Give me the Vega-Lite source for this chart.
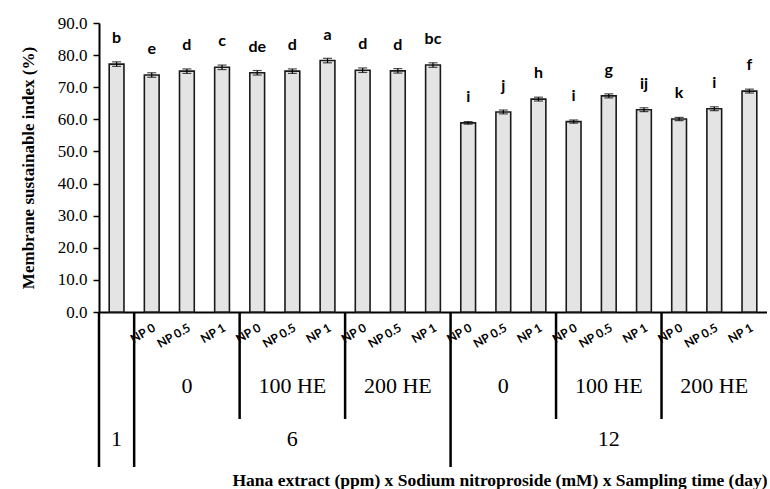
{
  "$schema": "https://vega.github.io/schema/vega-lite/v6.json",
  "padding": {"top": 14, "left": 19, "right": 0, "bottom": 0},
  "background": "white",
  "config": {"view": {"stroke": null}},
  "datasets": {
    "bars": [
      {"key": "1||", "mean": 77.2, "err": 0.7, "letter": "b"},
      {"key": "6|0|NP 0", "mean": 73.8, "err": 0.7, "letter": "e"},
      {"key": "6|0|NP 0.5", "mean": 75.0, "err": 0.7, "letter": "d"},
      {"key": "6|0|NP 1", "mean": 76.2, "err": 0.7, "letter": "c"},
      {"key": "6|100 HE|NP 0", "mean": 74.5, "err": 0.7, "letter": "de"},
      {"key": "6|100 HE|NP 0.5", "mean": 75.0, "err": 0.7, "letter": "d"},
      {"key": "6|100 HE|NP 1", "mean": 78.3, "err": 0.7, "letter": "a"},
      {"key": "6|200 HE|NP 0", "mean": 75.3, "err": 0.7, "letter": "d"},
      {"key": "6|200 HE|NP 0.5", "mean": 75.1, "err": 0.7, "letter": "d"},
      {"key": "6|200 HE|NP 1", "mean": 76.9, "err": 0.7, "letter": "bc"},
      {"key": "12|0|NP 0", "mean": 58.9, "err": 0.4, "letter": "i"},
      {"key": "12|0|NP 0.5", "mean": 62.3, "err": 0.6, "letter": "j"},
      {"key": "12|0|NP 1", "mean": 66.3, "err": 0.6, "letter": "h"},
      {"key": "12|100 HE|NP 0", "mean": 59.3, "err": 0.5, "letter": "i"},
      {"key": "12|100 HE|NP 0.5", "mean": 67.3, "err": 0.6, "letter": "g"},
      {"key": "12|100 HE|NP 1", "mean": 63.0, "err": 0.6, "letter": "ij"},
      {"key": "12|200 HE|NP 0", "mean": 60.1, "err": 0.5, "letter": "k"},
      {"key": "12|200 HE|NP 0.5", "mean": 63.3, "err": 0.6, "letter": "i"},
      {"key": "12|200 HE|NP 1", "mean": 68.8, "err": 0.6, "letter": "f"}
    ],
    "seps": [
      {"key": "1||", "kind": "long"},
      {"key": "6|0|NP 0", "kind": "long"},
      {"key": "6|100 HE|NP 0", "kind": "short"},
      {"key": "6|200 HE|NP 0", "kind": "short"},
      {"key": "12|0|NP 0", "kind": "long"},
      {"key": "12|100 HE|NP 0", "kind": "short"},
      {"key": "12|200 HE|NP 0", "kind": "short"}
    ],
    "he": [
      {"key": "6|0|NP 0.5", "label": "0"},
      {"key": "6|100 HE|NP 0.5", "label": "100 HE"},
      {"key": "6|200 HE|NP 0.5", "label": "200 HE"},
      {"key": "12|0|NP 0.5", "label": "0"},
      {"key": "12|100 HE|NP 0.5", "label": "100 HE"},
      {"key": "12|200 HE|NP 0.5", "label": "200 HE"}
    ],
    "days": [
      {"key": "1||", "label": "1"},
      {"key": "6|100 HE|NP 0.5", "label": "6"},
      {"key": "12|100 HE|NP 0.5", "label": "12"}
    ]
  },
  "vconcat": [
    {
      "width": 668,
      "height": 289,
      "data": {"name": "bars"},
      "encoding": {
        "x": {
          "field": "key", "type": "nominal",
          "scale": {"domain": ["1||","6|0|NP 0","6|0|NP 0.5","6|0|NP 1","6|100 HE|NP 0","6|100 HE|NP 0.5","6|100 HE|NP 1","6|200 HE|NP 0","6|200 HE|NP 0.5","6|200 HE|NP 1","12|0|NP 0","12|0|NP 0.5","12|0|NP 1","12|100 HE|NP 0","12|100 HE|NP 0.5","12|100 HE|NP 1","12|200 HE|NP 0","12|200 HE|NP 0.5","12|200 HE|NP 1"], "paddingInner": 0, "paddingOuter": 0},
          "axis": {
            "title": null,
            "labelExpr": "split(datum.value, '|')[2]",
            "labelAngle": -30,
            "labelFont": "Lato",
            "labelFontWeight": "bold",
            "labelFontSize": 12,
            "labelColor": "black",
            "labelPadding": 10,
            "ticks": false,
            "domainColor": "black",
            "domainWidth": 2
          }
        },
        "y": {
          "field": "mean", "type": "quantitative",
          "scale": {"domain": [0, 90]},
          "axis": {
            "title": "Membrane sustainable index (%)",
            "titleFont": "Liberation Serif",
            "titleFontSize": 17,
            "titleFontWeight": "bold",
            "titleColor": "black",
            "titlePadding": 20,
            "values": [0, 10, 20, 30, 40, 50, 60, 70, 80, 90],
            "format": ".1f",
            "labelFont": "Liberation Serif",
            "labelFontSize": 17,
            "labelColor": "black",
            "labelPadding": 6,
            "tickColor": "black",
            "tickSize": 6,
            "tickWidth": 1.5,
            "domainColor": "black",
            "domainWidth": 2,
            "grid": false
          }
        }
      },
      "layer": [
        {
          "mark": {"type": "bar", "fill": "#e4e4e4", "stroke": "#1a1a1a", "strokeWidth": 1.6, "width": {"band": 0.42}}
        },
        {
          "mark": {"type": "errorbar", "color": "black", "thickness": 1.2, "ticks": {"size": 9, "color": "black", "thickness": 1.2}},
          "encoding": {
            "yError": {"field": "err"}
          }
        },
        {
          "mark": {"type": "text", "font": "Lato", "fontWeight": "bold", "fontSize": 16, "baseline": "alphabetic", "dy": -21, "color": "black"},
          "encoding": {
            "text": {"field": "letter"}
          }
        }
      ]
    },
    {
      "width": 668,
      "height": 107,
      "layer": [
        {
          "data": {"name": "seps"},
          "mark": {"type": "rule", "color": "black", "strokeWidth": 2.5},
          "encoding": {
            "x": {"field": "key", "type": "nominal", "bandPosition": 0,
              "scale": {"domain": ["1||","6|0|NP 0","6|0|NP 0.5","6|0|NP 1","6|100 HE|NP 0","6|100 HE|NP 0.5","6|100 HE|NP 1","6|200 HE|NP 0","6|200 HE|NP 0.5","6|200 HE|NP 1","12|0|NP 0","12|0|NP 0.5","12|0|NP 1","12|100 HE|NP 0","12|100 HE|NP 0.5","12|100 HE|NP 1","12|200 HE|NP 0","12|200 HE|NP 0.5","12|200 HE|NP 1"], "paddingInner": 0, "paddingOuter": 0},
              "axis": null}
          }
        },
        {
          "data": {"name": "he"},
          "mark": {"type": "text", "font": "Liberation Serif", "fontSize": 22, "color": "black", "dy": 20},
          "encoding": {
            "x": {"field": "key", "type": "nominal",
              "scale": {"domain": ["1||","6|0|NP 0","6|0|NP 0.5","6|0|NP 1","6|100 HE|NP 0","6|100 HE|NP 0.5","6|100 HE|NP 1","6|200 HE|NP 0","6|200 HE|NP 0.5","6|200 HE|NP 1","12|0|NP 0","12|0|NP 0.5","12|0|NP 1","12|100 HE|NP 0","12|100 HE|NP 0.5","12|100 HE|NP 1","12|200 HE|NP 0","12|200 HE|NP 0.5","12|200 HE|NP 1"], "paddingInner": 0, "paddingOuter": 0},
              "axis": null},
            "text": {"field": "label"}
          }
        }
      ]
    },
    {
      "width": 668,
      "height": 48,
      "layer": [
        {
          "data": {"name": "seps"},
          "transform": [{"filter": "datum.kind === 'long'"}],
          "mark": {"type": "rule", "color": "black", "strokeWidth": 2.5},
          "encoding": {
            "x": {"field": "key", "type": "nominal", "bandPosition": 0,
              "scale": {"domain": ["1||","6|0|NP 0","6|0|NP 0.5","6|0|NP 1","6|100 HE|NP 0","6|100 HE|NP 0.5","6|100 HE|NP 1","6|200 HE|NP 0","6|200 HE|NP 0.5","6|200 HE|NP 1","12|0|NP 0","12|0|NP 0.5","12|0|NP 1","12|100 HE|NP 0","12|100 HE|NP 0.5","12|100 HE|NP 1","12|200 HE|NP 0","12|200 HE|NP 0.5","12|200 HE|NP 1"], "paddingInner": 0, "paddingOuter": 0},
              "axis": {
                "title": "Hana extract (ppm) x Sodium nitroproside (mM) x Sampling time (day)",
                "titleFont": "Liberation Serif",
                "titleFontSize": 17.5,
                "titleFontWeight": "bold",
                "titleColor": "black",
                "titleAnchor": "end",
                "titlePadding": 4,
                "labels": false,
                "ticks": false,
                "domain": false
              }
            }
          }
        },
        {
          "data": {"name": "days"},
          "mark": {"type": "text", "font": "Liberation Serif", "fontSize": 22, "color": "black", "dy": -4},
          "encoding": {
            "x": {"field": "key", "type": "nominal",
              "scale": {"domain": ["1||","6|0|NP 0","6|0|NP 0.5","6|0|NP 1","6|100 HE|NP 0","6|100 HE|NP 0.5","6|100 HE|NP 1","6|200 HE|NP 0","6|200 HE|NP 0.5","6|200 HE|NP 1","12|0|NP 0","12|0|NP 0.5","12|0|NP 1","12|100 HE|NP 0","12|100 HE|NP 0.5","12|100 HE|NP 1","12|200 HE|NP 0","12|200 HE|NP 0.5","12|200 HE|NP 1"], "paddingInner": 0, "paddingOuter": 0}},
            "text": {"field": "label"}
          }
        }
      ]
    }
  ],
  "spacing": 0,
  "bounds": "flush"
}
